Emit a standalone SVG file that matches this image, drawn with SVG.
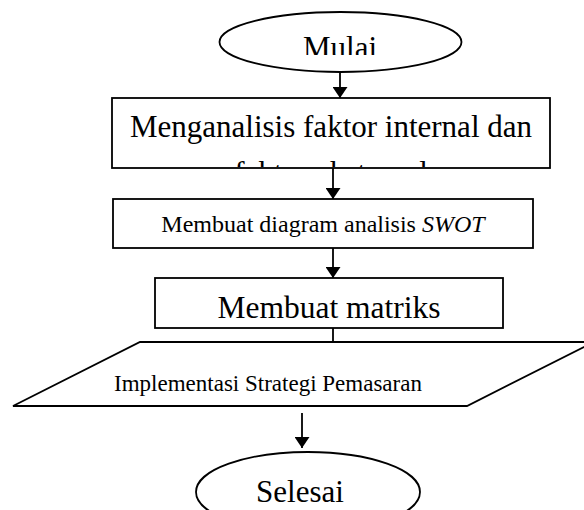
<svg xmlns="http://www.w3.org/2000/svg" width="584" height="510" viewBox="0 0 584 510">
  <style>
    .shape { fill: #ffffff; stroke: #000000; stroke-width: 1.8; }
    .flow { stroke: #000000; stroke-width: 1.8; fill: none; }
    .label { font-family: "Liberation Serif", "Times New Roman", serif; fill: #000000; text-anchor: middle; }
  </style>
  <defs>
    <marker id="arrow" viewBox="0 0 11 15" refX="11" refY="7.5" markerWidth="11" markerHeight="15" markerUnits="userSpaceOnUse" orient="auto">
      <path d="M0,0 L11,7.5 L0,15 Z" fill="#000000"/>
    </marker>
    <clipPath id="clip-mulai"><rect x="200" y="0" width="280" height="55"/></clipPath>
    <clipPath id="clip-analisis"><rect x="100" y="99" width="460" height="68"/></clipPath>
    <clipPath id="clip-selesai"><rect x="180" y="440" width="260" height="65"/></clipPath>
  </defs>

  <!-- connectors (drawn first so shapes sit on top) -->
  <g id="connectors">
    <line class="flow" x1="340" y1="72" x2="340" y2="98" marker-end="url(#arrow)"/>
    <line class="flow" x1="333" y1="168" x2="333" y2="199" marker-end="url(#arrow)"/>
    <line class="flow" x1="333" y1="248" x2="333" y2="278" marker-end="url(#arrow)"/>
    <line class="flow" x1="333" y1="328" x2="333" y2="353" marker-end="url(#arrow)"/>
    <line class="flow" x1="302" y1="413" x2="302" y2="448" marker-end="url(#arrow)"/>
  </g>

  <g id="mulai">
    <ellipse class="shape" cx="340.5" cy="42" rx="121" ry="30"/>
    <text class="label" x="340" y="58" font-size="31" clip-path="url(#clip-mulai)">Mulai</text>
  </g>

  <g id="analisis-faktor">
    <rect class="shape" x="112" y="98" width="438" height="70"/>
    <g clip-path="url(#clip-analisis)">
      <text class="label" x="331" y="137" font-size="31">Menganalisis faktor internal dan</text>
      <text class="label" x="331" y="183" font-size="31">faktor eksternal</text>
    </g>
  </g>

  <g id="diagram-swot">
    <rect class="shape" x="113" y="199" width="420" height="49"/>
    <text class="label" x="323" y="232" font-size="24">Membuat diagram analisis <tspan font-style="italic">SWOT</tspan></text>
  </g>

  <g id="matriks">
    <rect class="shape" x="155" y="278" width="348" height="50"/>
    <text class="label" x="329" y="318" font-size="31.5">Membuat matriks</text>
  </g>

  <g id="implementasi">
    <polygon class="shape" points="140,342 594,342 467,406 13,406"/>
    <text class="label" x="268" y="391" font-size="23">Implementasi Strategi Pemasaran</text>
  </g>

  <g id="selesai">
    <ellipse class="shape" cx="308" cy="492" rx="112" ry="40"/>
    <text class="label" x="300" y="502" font-size="31" clip-path="url(#clip-selesai)">Selesai</text>
  </g>
</svg>
